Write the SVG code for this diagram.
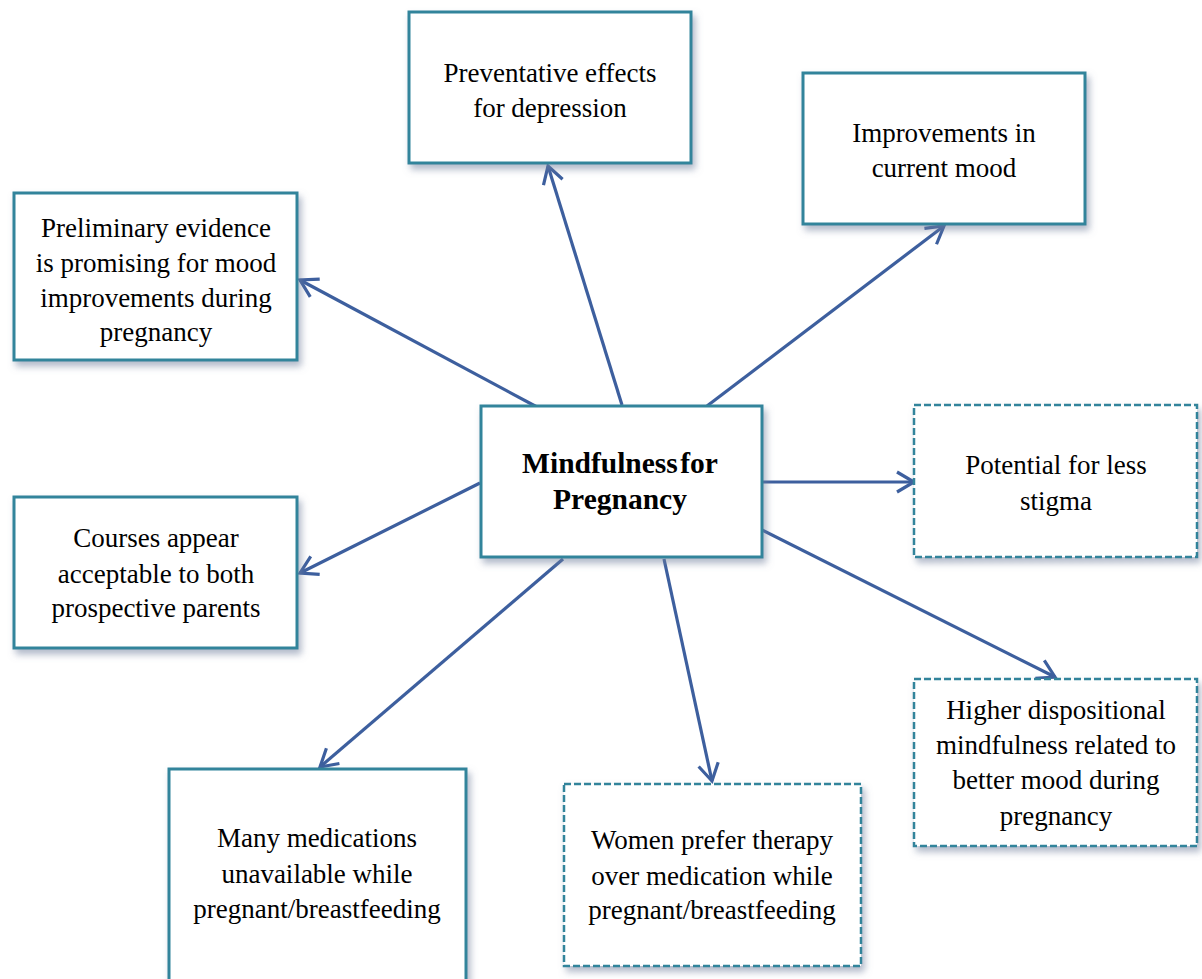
<svg xmlns="http://www.w3.org/2000/svg" width="1202" height="979" viewBox="0 0 1202 979">
  <defs>
    <filter id="shadow" x="-10%" y="-10%" width="125%" height="130%">
      <feDropShadow dx="3" dy="5" stdDeviation="3.5" flood-color="#6f7f9c" flood-opacity="0.55"/>
    </filter>
    <marker id="arrow" markerUnits="userSpaceOnUse" markerWidth="26" markerHeight="26" viewBox="0 0 26 26" refX="22" refY="13" orient="auto">
      <path d="M5,3 L22,13 L5,23" fill="none" stroke="#3d5f9e" stroke-width="3.2" stroke-linejoin="miter"/>
    </marker>
  </defs>
  <style>
    .box { fill: #ffffff; stroke: #31849b; stroke-width: 3; filter: url(#shadow); }
    .dash { stroke-width: 2.5; stroke-dasharray: 7 3; }
    .lbl { font-family: 'Liberation Serif', 'Tinos', 'Times New Roman', 'DejaVu Serif', serif; font-size: 27px; fill: #000000; text-anchor: middle; }
    .main { font-weight: bold; font-size: 29.5px; }
    .conn { stroke: #3d5f9e; stroke-width: 3.2; fill: none; marker-end: url(#arrow); }
  </style>
  <rect width="1202" height="979" fill="#ffffff"/>

  <g id="connectors">
    <line class="conn" x1="537" y1="407" x2="300" y2="280"/>
    <line class="conn" x1="622" y1="405" x2="548" y2="166"/>
    <line class="conn" x1="707" y1="406" x2="944" y2="226"/>
    <line class="conn" x1="762" y1="482" x2="914" y2="482"/>
    <line class="conn" x1="480" y1="483" x2="300" y2="573"/>
    <line class="conn" x1="563" y1="559" x2="320" y2="767"/>
    <line class="conn" x1="664" y1="559" x2="712" y2="781"/>
    <line class="conn" x1="762" y1="530" x2="1055" y2="677"/>
  </g>

  <g id="center">
    <rect class="box" x="481" y="406" width="281" height="151"/>
    <text class="lbl main" x="620" y="473" word-spacing="-5">Mindfulness for</text>
    <text class="lbl main" x="620" y="509">Pregnancy</text>
  </g>

  <g id="preventative">
    <rect class="box" x="409" y="12" width="282" height="151"/>
    <text class="lbl" x="550" y="82">Preventative effects</text>
    <text class="lbl" x="550" y="117">for depression</text>
  </g>

  <g id="current-mood">
    <rect class="box" x="803" y="73" width="282" height="151"/>
    <text class="lbl" x="944" y="142">Improvements in</text>
    <text class="lbl" x="944" y="177">current mood</text>
  </g>

  <g id="preliminary">
    <rect class="box" x="14" y="193" width="283" height="167"/>
    <text class="lbl" x="156" y="237">Preliminary evidence</text>
    <text class="lbl" x="156" y="272">is promising for mood</text>
    <text class="lbl" x="156" y="307">improvements during</text>
    <text class="lbl" x="156" y="341">pregnancy</text>
  </g>

  <g id="stigma">
    <rect class="box dash" x="914" y="405" width="283" height="152"/>
    <text class="lbl" x="1056" y="474">Potential for less</text>
    <text class="lbl" x="1056" y="510">stigma</text>
  </g>

  <g id="courses">
    <rect class="box" x="14" y="497" width="283" height="151"/>
    <text class="lbl" x="156" y="547">Courses appear</text>
    <text class="lbl" x="156" y="583">acceptable to both</text>
    <text class="lbl" x="156" y="617">prospective parents</text>
  </g>

  <g id="dispositional">
    <rect class="box dash" x="914" y="679" width="283" height="167"/>
    <text class="lbl" x="1056" y="719">Higher dispositional</text>
    <text class="lbl" x="1056" y="754">mindfulness related to</text>
    <text class="lbl" x="1056" y="789">better mood during</text>
    <text class="lbl" x="1056" y="825">pregnancy</text>
  </g>

  <g id="medications">
    <rect class="box" x="169" y="769" width="297" height="220"/>
    <text class="lbl" x="317" y="847">Many medications</text>
    <text class="lbl" x="317" y="883">unavailable while</text>
    <text class="lbl" x="317" y="918">pregnant/breastfeeding</text>
  </g>

  <g id="therapy">
    <rect class="box dash" x="564" y="784" width="297" height="182"/>
    <text class="lbl" x="712" y="849">Women prefer therapy</text>
    <text class="lbl" x="712" y="885">over medication while</text>
    <text class="lbl" x="712" y="919">pregnant/breastfeeding</text>
  </g>
</svg>
